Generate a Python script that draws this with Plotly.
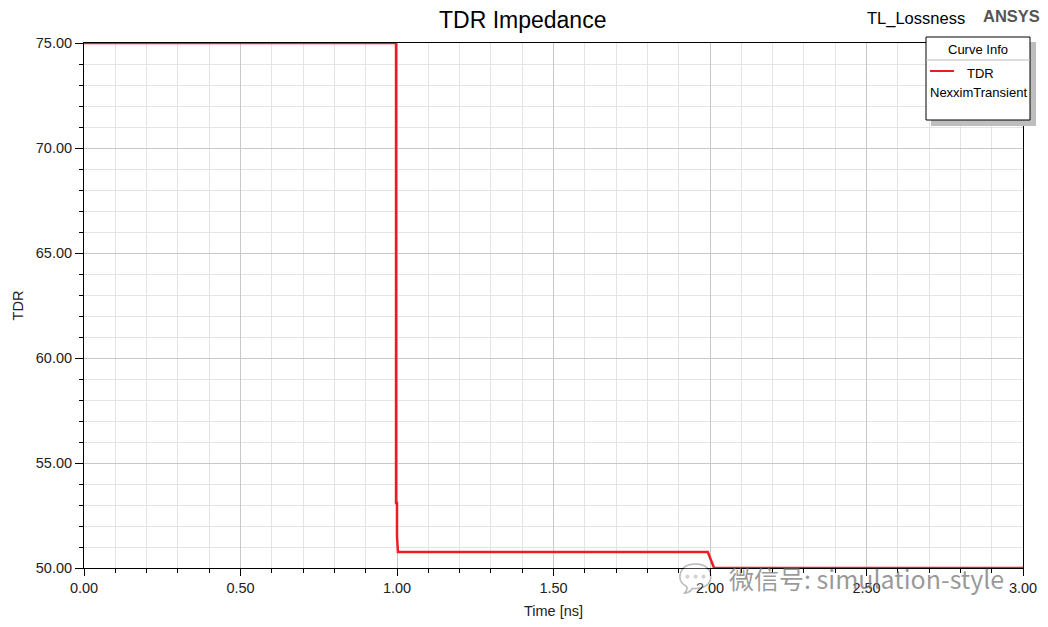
import plotly.graph_objects as go

# Data
time_ns = [0.0, 0.997, 0.997, 1.0, 1.0, 1.003, 1.993, 2.013, 3.0]
tdr_ohm = [75.0, 75.0, 53.1, 53.1, 51.5, 50.76, 50.76, 50.0, 50.0]

x_ticks = [0.0, 0.5, 1.0, 1.5, 2.0, 2.5, 3.0]
x_tick_labels = ["0.00", "0.50", "1.00", "1.50", "2.00", "2.50", "3.00"]
y_ticks = [50, 55, 60, 65, 70, 75]
y_tick_labels = ["50.00", "55.00", "60.00", "65.00", "70.00", "75.00"]

RED = "#ED1C24"
FONT = "Liberation Sans, Arial, sans-serif"

fig = go.Figure()
fig.add_trace(go.Scatter(x=time_ns, y=tdr_ohm, mode="lines",
                         line=dict(color=RED, width=2.5), showlegend=False,
                         name="TDR"))

axis_common = dict(
    showline=True, linecolor="black", linewidth=1, mirror=True,
    ticks="outside", tickcolor="black", tickwidth=1,
    showgrid=True, gridcolor="#C8C8C8", gridwidth=1,
    zeroline=False, automargin=False,
    tickfont=dict(family=FONT, size=14.5, color="#222222"),
)

fig.update_xaxes(**axis_common, range=[0, 3], tickvals=x_ticks, ticktext=x_tick_labels,
                 ticklen=7,
                 minor=dict(dtick=0.1, tick0=0, showgrid=True, gridcolor="#E4E4E4",
                            ticks="outside", ticklen=4, tickcolor="black"),
                 title=dict(text="Time [ns]", font=dict(family=FONT, size=14.5, color="#222222"),
                            standoff=10))
fig.update_yaxes(**axis_common, range=[50, 75], tickvals=y_ticks, ticktext=y_tick_labels,
                 ticklen=8,
                 minor=dict(dtick=1, tick0=50, showgrid=True, gridcolor="#E4E4E4",
                            ticks="outside", ticklen=4, tickcolor="black"),
                 title=dict(text="TDR", font=dict(family=FONT, size=14.5, color="#222222"),
                            standoff=8))

OFF = 8  # page body margin
W, H = 1048 - OFF, 627 - OFF
# plot area in screen pixels: x 84..1023, y 43..568
L, R, T, B = 84 - OFF, 1048 - 1023, 43 - OFF, 627 - 568
pw, ph = W - L - R, H - T - B


def px(x):
    return (x - OFF - L) / pw


def py(y):
    return (H - B - (y - OFF)) / ph


shapes = []
# legend shadow
shapes.append(dict(type="rect", xref="paper", yref="paper",
                   x0=px(931), x1=px(1036), y0=py(126), y1=py(42),
                   fillcolor="#BEBEBE", line=dict(width=0), layer="above"))
# legend box
shapes.append(dict(type="rect", xref="paper", yref="paper",
                   x0=px(926), x1=px(1030), y0=py(120), y1=py(37),
                   fillcolor="white", line=dict(color="black", width=1), layer="above"))
# header separator
shapes.append(dict(type="line", xref="paper", yref="paper",
                   x0=px(926), x1=px(1030), y0=py(60), y1=py(60),
                   line=dict(color="#BBBBBB", width=1), layer="above"))
# legend line sample
shapes.append(dict(type="line", xref="paper", yref="paper",
                   x0=px(930), x1=px(954), y0=py(71), y1=py(71),
                   line=dict(color=RED, width=2), layer="above"))

annotations = [
    dict(text="TDR Impedance", x=px(522), y=py(20), xref="paper", yref="paper",
         showarrow=False, font=dict(family=FONT, size=23, color="black"),
         xanchor="center", yanchor="middle"),
    dict(text="TL_Lossness", x=px(916), y=py(19), xref="paper", yref="paper",
         showarrow=False, font=dict(family=FONT, size=16.5, color="black"),
         xanchor="center", yanchor="middle"),
    dict(text="<b>ANSYS</b>", x=px(1011), y=py(16), xref="paper", yref="paper",
         showarrow=False, font=dict(family=FONT, size=16.5, color="#555555"),
         xanchor="center", yanchor="middle"),
    dict(text="Curve Info", x=px(978), y=py(50), xref="paper", yref="paper",
         showarrow=False, font=dict(family=FONT, size=13, color="black"),
         xanchor="center", yanchor="middle"),
    dict(text="TDR", x=px(980), y=py(74), xref="paper", yref="paper",
         showarrow=False, font=dict(family=FONT, size=13, color="black"),
         xanchor="center", yanchor="middle"),
    dict(text="NexximTransient", x=px(978), y=py(92), xref="paper", yref="paper",
         showarrow=False, font=dict(family=FONT, size=13, color="black"),
         xanchor="center", yanchor="middle"),
    dict(text="微信号: simulation-style", x=px(727), y=py(578), xref="paper", yref="paper",
         showarrow=False, font=dict(family="Noto Sans CJK SC", size=25, color="rgba(120,120,120,0.75)"),
         xanchor="left", yanchor="middle"),
    dict(text="💬", x=px(695), y=py(578), xref="paper", yref="paper",
         showarrow=False, font=dict(size=28, color="rgba(150,150,150,0.6)"),
         xanchor="center", yanchor="middle", opacity=0.45),
]

fig.update_layout(
    width=W, height=H,
    margin=dict(l=L, r=R, t=T, b=B),
    paper_bgcolor="white", plot_bgcolor="white",
    shapes=shapes, annotations=annotations,
    font=dict(family=FONT),
)

fig.write_html("out.html")
